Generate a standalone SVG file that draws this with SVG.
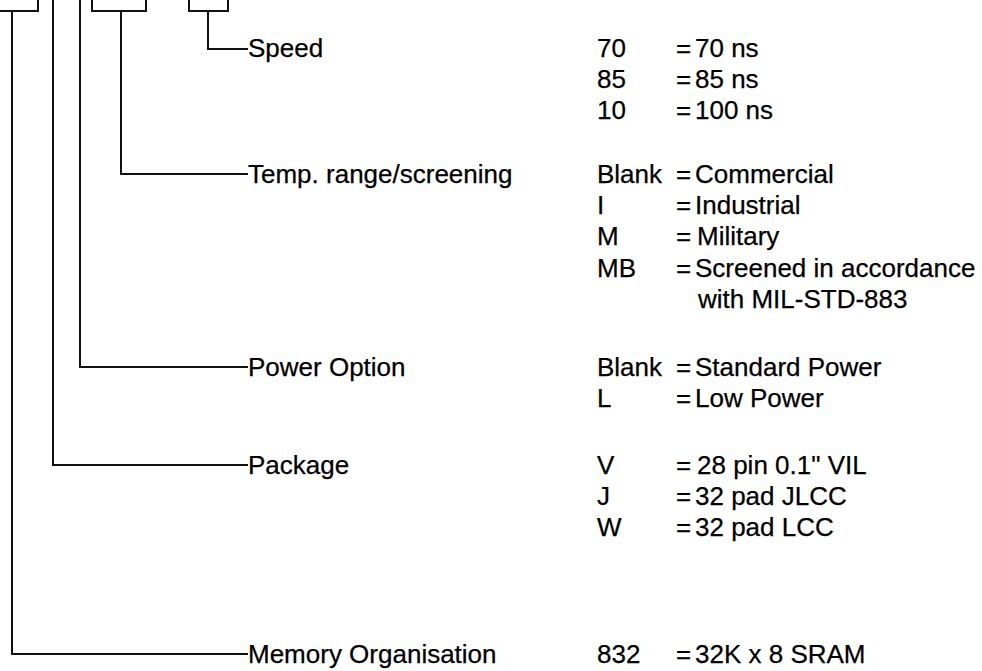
<svg xmlns="http://www.w3.org/2000/svg" width="982" height="671" viewBox="0 0 982 671">
<style>
.ln{fill:none;stroke:#111;stroke-width:2;stroke-linecap:square;stroke-linejoin:miter}
text{font-family:"Liberation Sans",Arial,sans-serif;font-size:26px;fill:#000;stroke:#000;stroke-width:0.25}
</style>
<rect width="982" height="671" fill="#fff"/>
<g id="connectors">
<path class="ln" d="M-10,11 H38 V-10"/>
<path class="ln" d="M92,-10 V11 H146 V-10"/>
<path class="ln" d="M189,-10 V11 H228 V-10"/>
<path class="ln" d="M208,11 V49 H247"/>
<path class="ln" d="M121,11 V174 H247"/>
<path class="ln" d="M80,-10 V367 H247"/>
<path class="ln" d="M53,-10 V465 H247"/>
<path class="ln" d="M12,11 V654 H247"/>
</g>
<g id="speed">
<text x="248" y="57">Speed</text>
<text x="597" y="57">70</text><text x="676" y="57">=</text><text x="695" y="57">70 ns</text>
<text x="597" y="88">85</text><text x="676" y="88">=</text><text x="695" y="88">85 ns</text>
<text x="597" y="119">10</text><text x="676" y="119">=</text><text x="695" y="119">100 ns</text>
</g>
<g id="temp">
<text x="248" y="183">Temp. range/screening</text>
<text x="597" y="183">Blank</text><text x="676" y="183">=</text><text x="695" y="183">Commercial</text>
<text x="597" y="214">I</text><text x="676" y="214">=</text><text x="695" y="214">Industrial</text>
<text x="597" y="245">M</text><text x="676" y="245">=</text><text x="697" y="245">Military</text>
<text x="597" y="277">MB</text><text x="676" y="277">=</text><text x="695" y="277">Screened in accordance</text>
<text x="698" y="308">with MIL-STD-883</text>
</g>
<g id="power">
<text x="248" y="376">Power Option</text>
<text x="597" y="376">Blank</text><text x="676" y="376">=</text><text x="695" y="376">Standard Power</text>
<text x="597" y="407">L</text><text x="676" y="407">=</text><text x="695" y="407">Low Power</text>
</g>
<g id="package">
<text x="248" y="474">Package</text>
<text x="597" y="474">V</text><text x="676" y="474">=</text><text x="697" y="474">28 pin 0.1" VIL</text>
<text x="597" y="505">J</text><text x="676" y="505">=</text><text x="695" y="505">32 pad JLCC</text>
<text x="597" y="536">W</text><text x="676" y="536">=</text><text x="695" y="536">32 pad LCC</text>
</g>
<g id="memory">
<text x="248" y="663">Memory Organisation</text>
<text x="597" y="663">832</text><text x="676" y="663">=</text><text x="695" y="663">32K x 8 SRAM</text>
</g>
</svg>
